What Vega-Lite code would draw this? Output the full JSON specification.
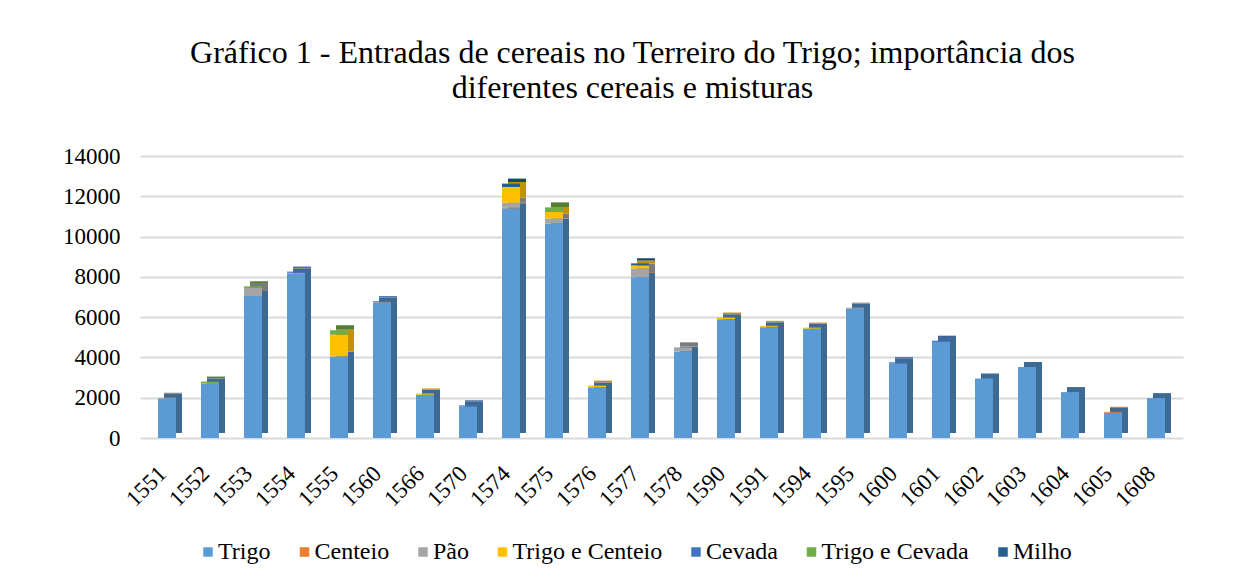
{
  "$schema": "https://vega.github.io/schema/vega-lite/v6.json",
  "autosize": {"type": "none"},
  "width": 1043,
  "height": 282,
  "padding": {"left": 140, "top": 156, "right": 61, "bottom": 146},
  "background": "white",
  "title": {
    "text": ["Gráfico 1 - Entradas de cereais no Terreiro do Trigo; importância dos", "diferentes cereais e misturas"],
    "font": "Liberation Serif",
    "fontSize": 32,
    "fontWeight": "normal",
    "color": "#000000",
    "anchor": "middle",
    "frame": "group",
    "dx": -29,
    "offset": 40,
    "lineHeight": 35
  },
  "config": {
    "view": {"stroke": null},
    "font": "Liberation Serif"
  },
  "data": {
    "values": [
      {"ano": "1551", "cereal": "Trigo", "ord": 1, "valor": 1950},
      {"ano": "1551", "cereal": "Pão", "ord": 3, "valor": 50},
      {"ano": "1552", "cereal": "Trigo", "ord": 1, "valor": 2700},
      {"ano": "1552", "cereal": "Pão", "ord": 3, "valor": 30},
      {"ano": "1552", "cereal": "Trigo e Cevada", "ord": 6, "valor": 70},
      {"ano": "1553", "cereal": "Trigo", "ord": 1, "valor": 7050},
      {"ano": "1553", "cereal": "Pão", "ord": 3, "valor": 400},
      {"ano": "1553", "cereal": "Trigo e Cevada", "ord": 6, "valor": 80},
      {"ano": "1554", "cereal": "Trigo", "ord": 1, "valor": 8150},
      {"ano": "1554", "cereal": "Pão", "ord": 3, "valor": 50},
      {"ano": "1554", "cereal": "Cevada", "ord": 5, "valor": 60},
      {"ano": "1555", "cereal": "Trigo", "ord": 1, "valor": 4050},
      {"ano": "1555", "cereal": "Trigo e Centeio", "ord": 4, "valor": 1080},
      {"ano": "1555", "cereal": "Trigo e Cevada", "ord": 6, "valor": 220},
      {"ano": "1560", "cereal": "Trigo", "ord": 1, "valor": 6700},
      {"ano": "1560", "cereal": "Pão", "ord": 3, "valor": 40},
      {"ano": "1560", "cereal": "Cevada", "ord": 5, "valor": 50},
      {"ano": "1566", "cereal": "Trigo", "ord": 1, "valor": 2150},
      {"ano": "1566", "cereal": "Trigo e Centeio", "ord": 4, "valor": 60},
      {"ano": "1570", "cereal": "Trigo", "ord": 1, "valor": 1570},
      {"ano": "1570", "cereal": "Cevada", "ord": 5, "valor": 50},
      {"ano": "1574", "cereal": "Trigo", "ord": 1, "valor": 11400},
      {"ano": "1574", "cereal": "Centeio", "ord": 2, "valor": 30},
      {"ano": "1574", "cereal": "Pão", "ord": 3, "valor": 250},
      {"ano": "1574", "cereal": "Trigo e Centeio", "ord": 4, "valor": 780},
      {"ano": "1574", "cereal": "Milho", "ord": 7, "valor": 170},
      {"ano": "1575", "cereal": "Trigo", "ord": 1, "valor": 10650},
      {"ano": "1575", "cereal": "Pão", "ord": 3, "valor": 250},
      {"ano": "1575", "cereal": "Trigo e Centeio", "ord": 4, "valor": 320},
      {"ano": "1575", "cereal": "Trigo e Cevada", "ord": 6, "valor": 230},
      {"ano": "1576", "cereal": "Trigo", "ord": 1, "valor": 2500},
      {"ano": "1576", "cereal": "Pão", "ord": 3, "valor": 30},
      {"ano": "1576", "cereal": "Trigo e Centeio", "ord": 4, "valor": 70},
      {"ano": "1577", "cereal": "Trigo", "ord": 1, "valor": 7950},
      {"ano": "1577", "cereal": "Centeio", "ord": 2, "valor": 40},
      {"ano": "1577", "cereal": "Pão", "ord": 3, "valor": 430},
      {"ano": "1577", "cereal": "Trigo e Centeio", "ord": 4, "valor": 150},
      {"ano": "1577", "cereal": "Milho", "ord": 7, "valor": 100},
      {"ano": "1578", "cereal": "Trigo", "ord": 1, "valor": 4300},
      {"ano": "1578", "cereal": "Pão", "ord": 3, "valor": 200},
      {"ano": "1590", "cereal": "Trigo", "ord": 1, "valor": 5900},
      {"ano": "1590", "cereal": "Trigo e Centeio", "ord": 4, "valor": 80},
      {"ano": "1591", "cereal": "Trigo", "ord": 1, "valor": 5500},
      {"ano": "1591", "cereal": "Pão", "ord": 3, "valor": 20},
      {"ano": "1591", "cereal": "Trigo e Centeio", "ord": 4, "valor": 50},
      {"ano": "1594", "cereal": "Trigo", "ord": 1, "valor": 5430},
      {"ano": "1594", "cereal": "Trigo e Centeio", "ord": 4, "valor": 50},
      {"ano": "1595", "cereal": "Trigo", "ord": 1, "valor": 6420},
      {"ano": "1595", "cereal": "Pão", "ord": 3, "valor": 50},
      {"ano": "1600", "cereal": "Trigo", "ord": 1, "valor": 3700},
      {"ano": "1600", "cereal": "Cevada", "ord": 5, "valor": 60},
      {"ano": "1601", "cereal": "Trigo", "ord": 1, "valor": 4770},
      {"ano": "1601", "cereal": "Cevada", "ord": 5, "valor": 60},
      {"ano": "1602", "cereal": "Trigo", "ord": 1, "valor": 2950},
      {"ano": "1603", "cereal": "Trigo", "ord": 1, "valor": 3520},
      {"ano": "1604", "cereal": "Trigo", "ord": 1, "valor": 2280},
      {"ano": "1605", "cereal": "Trigo", "ord": 1, "valor": 1260},
      {"ano": "1605", "cereal": "Centeio", "ord": 2, "valor": 40},
      {"ano": "1608", "cereal": "Trigo", "ord": 1, "valor": 1980}
    ]
  },
  "encoding": {
    "x": {
      "field": "ano",
      "type": "nominal",
      "scale": {"paddingInner": 0, "paddingOuter": 0.128},
      "axis": {
        "title": null,
        "labelAngle": -45,
        "labelFont": "Liberation Serif",
        "labelFontSize": 23,
        "labelColor": "#000000",
        "labelPadding": 24,
        "labelOffset": -12,
        "domain": false,
        "ticks": false
      }
    },
    "y": {
      "field": "valor",
      "type": "quantitative",
      "aggregate": "sum",
      "stack": "zero",
      "scale": {"domain": [0, 14000], "nice": false},
      "axis": {
        "title": null,
        "values": [0, 2000, 4000, 6000, 8000, 10000, 12000, 14000],
        "format": "d",
        "labelFont": "Liberation Serif",
        "labelFontSize": 23,
        "labelColor": "#000000",
        "labelPadding": 20,
        "domain": false,
        "ticks": false,
        "grid": true,
        "gridColor": "#D9D9D9",
        "gridWidth": 2
      }
    },
    "order": {"field": "ord", "type": "quantitative"}
  },
  "layer": [
    {
      "mark": {"type": "bar", "width": 18, "xOffset": 6, "yOffset": -5},
      "encoding": {
        "color": {
          "field": "cereal",
          "type": "nominal",
          "scale": {
            "domain": ["Trigo", "Centeio", "Pão", "Trigo e Centeio", "Cevada", "Trigo e Cevada", "Milho"],
            "range": ["#3D6A93", "#B35B1F", "#7B7B7B", "#C29200", "#2F539A", "#527F34", "#1A4569"]
          },
          "legend": null
        }
      }
    },
    {
      "mark": {"type": "bar", "width": 18},
      "encoding": {
        "color": {
          "field": "cereal",
          "type": "nominal",
          "scale": {
            "domain": ["Trigo", "Centeio", "Pão", "Trigo e Centeio", "Cevada", "Trigo e Cevada", "Milho"],
            "range": ["#5B9BD5", "#ED7D31", "#A5A5A5", "#FFC000", "#4472C4", "#70AD47", "#255E91"]
          },
          "legend": {
            "title": null,
            "orient": "none",
            "legendX": 56,
            "legendY": 384,
            "direction": "horizontal",
            "columns": 7,
            "symbolType": "square",
            "symbolSize": 90,
            "symbolStrokeWidth": 0,
            "labelFont": "Liberation Serif",
            "labelFontSize": 24,
            "labelColor": "#000000",
            "labelOffset": -2,
            "columnPadding": 21.5
          }
        }
      }
    }
  ],
  "resolve": {"scale": {"color": "independent"}}
}
